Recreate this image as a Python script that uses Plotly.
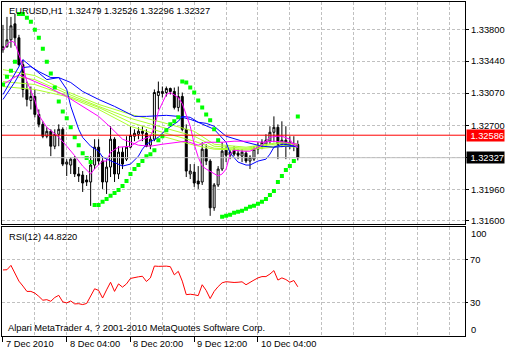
import plotly.graph_objects as go

# ---------------- data ----------------
SYMBOL = "EURUSD,H1"
BARS = list(range(75))  # hourly bars, bar 0 = 7 Dec 2010 12:00
LABEL_BARS = [0, 16, 32, 48, 64]
LABEL_TEXT = ["7 Dec 2010", "8 Dec 04:00", "8 Dec 20:00", "9 Dec 12:00", "10 Dec 04:00"]
GRID_BARS = [8, 16, 24, 32, 40, 48, 56, 64, 72, 80, 88, 96, 104, 112]

OPEN = [1.33571, 1.33605, 1.33685, 1.33869, 1.33708, 1.33399, 1.33113, 1.32986, 1.33032, 1.32826,
        1.32711, 1.32574, 1.32631, 1.32459, 1.32597, 1.32654, 1.32253, 1.32242, 1.32310, 1.32139,
        1.32127, 1.32070, 1.32047, 1.32242, 1.32448, 1.32288, 1.32047, 1.32219, 1.32540, 1.32139,
        1.32391, 1.32310, 1.32448, 1.32574, 1.32597, 1.32631, 1.32608, 1.32471, 1.32540, 1.33044,
        1.33067, 1.33078, 1.33124, 1.33090, 1.32906, 1.33032, 1.32654, 1.32139, 1.32161, 1.32058,
        1.32047, 1.32425, 1.32288, 1.31749, 1.32013, 1.32196, 1.32414, 1.32356, 1.32414, 1.32379,
        1.32345, 1.32379, 1.32288, 1.32310, 1.32425, 1.32459, 1.32482, 1.32517, 1.32620, 1.32677,
        1.32482, 1.32528, 1.32505, 1.32459, 1.32479]
HIGH = [1.33857, 1.33949, 1.33949, 1.33983, 1.33743, 1.33456, 1.33204, 1.33147, 1.33113, 1.32883,
        1.32746, 1.32677, 1.32654, 1.32654, 1.32711, 1.32677, 1.32310, 1.32333, 1.32345, 1.32219,
        1.32173, 1.32127, 1.32345, 1.32540, 1.32540, 1.32345, 1.32310, 1.32689, 1.32563, 1.32459,
        1.32448, 1.32574, 1.32689, 1.32654, 1.32677, 1.32689, 1.32654, 1.32585, 1.33113, 1.33204,
        1.33147, 1.33147, 1.33135, 1.33135, 1.33147, 1.33078, 1.32711, 1.32253, 1.32253, 1.32230,
        1.32505, 1.32482, 1.32310, 1.32035, 1.32230, 1.32505, 1.32459, 1.32414, 1.32459, 1.32425,
        1.32425, 1.32402, 1.32356, 1.32459, 1.32505, 1.32540, 1.32597, 1.32689, 1.32803, 1.32711,
        1.32746, 1.32689, 1.32574, 1.32574, 1.32526]
LOW = [1.33536, 1.33594, 1.33594, 1.33617, 1.33388, 1.33021, 1.32918, 1.32883, 1.32792, 1.32677,
       1.32551, 1.32551, 1.32345, 1.32425, 1.32459, 1.32230, 1.32116, 1.32139, 1.32104, 1.32047,
       1.31932, 1.32001, 1.31772, 1.32196, 1.32242, 1.31967, 1.31909, 1.32104, 1.32047, 1.32081,
       1.32196, 1.32288, 1.32436, 1.32517, 1.32540, 1.32517, 1.32448, 1.32425, 1.32517, 1.32883,
       1.33021, 1.33032, 1.33055, 1.32883, 1.32860, 1.32631, 1.32104, 1.32081, 1.31990, 1.31967,
       1.32013, 1.32242, 1.31657, 1.31715, 1.31990, 1.32173, 1.32276, 1.32310, 1.32345, 1.32310,
       1.32276, 1.32265, 1.32196, 1.32288, 1.32368, 1.32425, 1.32459, 1.32482, 1.32505, 1.32310,
       1.32448, 1.32310, 1.32425, 1.32402, 1.32296]
CLOSE = [1.33605, 1.33685, 1.33846, 1.33708, 1.33399, 1.33113, 1.32998, 1.33032, 1.32826, 1.32711,
         1.32574, 1.32631, 1.32459, 1.32597, 1.32654, 1.32253, 1.32276, 1.32310, 1.32139, 1.32116,
         1.32035, 1.32047, 1.32242, 1.32448, 1.32288, 1.32047, 1.32219, 1.32540, 1.32139, 1.32391,
         1.32253, 1.32448, 1.32585, 1.32608, 1.32631, 1.32608, 1.32459, 1.32540, 1.33078, 1.33090,
         1.33090, 1.33124, 1.33090, 1.32906, 1.33032, 1.32654, 1.32173, 1.32173, 1.32035, 1.32024,
         1.32425, 1.32288, 1.31749, 1.32013, 1.32196, 1.32402, 1.32356, 1.32391, 1.32368, 1.32356,
         1.32391, 1.32288, 1.32333, 1.32425, 1.32459, 1.32505, 1.32528, 1.32620, 1.32677, 1.32482,
         1.32528, 1.32471, 1.32471, 1.32482, 1.32327]

SAR = [1.33170, 1.33261, 1.33330, 1.33433, 1.33983, 1.33983, 1.33938, 1.33892, 1.33800, 1.33708,
       1.33582, 1.33433, 1.33296, 1.33135, 1.32975, 1.32860, 1.32780, 1.32677, 1.32563, 1.32471,
       1.32379, 1.32322, 1.32276, 1.31783, 1.31783, 1.31818, 1.31852, 1.31887, 1.31921, 1.31955,
       1.32001, 1.32058, 1.32139, 1.32196, 1.32242, 1.32288, 1.32345, 1.32368, 1.32414, 1.32528,
       1.32574, 1.32643, 1.32711, 1.32746, 1.32792, 1.33204, 1.33193, 1.33135, 1.33078, 1.32986,
       1.32906, 1.32826, 1.32757, 1.32654, 1.32528, 1.31646, 1.31657, 1.31669, 1.31692, 1.31703,
       1.31715, 1.31738, 1.31761, 1.31772, 1.31795, 1.31818, 1.31852, 1.31898, 1.31944, 1.32047,
       1.32116, 1.32184, 1.32230, 1.32288, 1.32803]

MA_FAST_BARS = [0, 2, 3, 5, 6, 8, 9, 11, 12, 14, 16, 17, 18, 20, 22, 23, 25, 26, 27, 29,
                31, 32, 34, 37, 38, 39, 41, 42, 44, 45, 47, 48, 49, 50, 51, 52, 54, 55, 56, 57,
                58, 60, 62, 63, 65, 66, 67, 69, 70, 72, 73, 74]
MA_FAST = [1.33571, 1.33674, 1.33650, 1.33376, 1.33204, 1.32990, 1.32815, 1.32677, 1.32640, 1.32563,
           1.32460, 1.32410, 1.32350, 1.32230, 1.32139, 1.32200, 1.32288, 1.32288, 1.32391, 1.32448,
           1.32459, 1.32459, 1.32517, 1.32574, 1.32677, 1.32860, 1.33055, 1.33078, 1.33021, 1.32950,
           1.32689, 1.32482, 1.32333, 1.32230, 1.32196, 1.32170, 1.32116, 1.32139, 1.32196, 1.32368,
           1.32414, 1.32402, 1.32402, 1.32425, 1.32471, 1.32517, 1.32563, 1.32574, 1.32574, 1.32540,
           1.32471, 1.32448]

MA_SLOW_BARS = [0, 4, 8, 11, 16, 20, 24, 27, 30, 34, 37, 40, 44, 46, 49, 51, 55, 58, 62, 65, 68, 71, 74]
MA_SLOW = [1.33170, 1.33284, 1.33204, 1.33147, 1.33032, 1.32918, 1.32803, 1.32677, 1.32540, 1.32471,
           1.32459, 1.32482, 1.32505, 1.32517, 1.32471, 1.32505, 1.32505, 1.32517, 1.32517, 1.32505,
           1.32517, 1.32505, 1.32482]

BLUE_FAST_BARS = [0, 5, 11, 14, 16, 17, 19, 20, 22, 24, 25, 28, 30, 32, 34, 35, 36, 39, 41, 44,
                  45, 47, 49, 53, 56, 57, 59, 61, 62, 64, 66, 67, 68, 70, 71, 73, 74]
BLUE_FAST = [1.33055, 1.33456, 1.33227, 1.33250, 1.33113, 1.32920, 1.32654, 1.32560, 1.32459, 1.32402,
             1.32333, 1.32276, 1.32230, 1.32253, 1.32345, 1.32425, 1.32482, 1.32563, 1.32654, 1.32746,
             1.32803, 1.32792, 1.32735, 1.32654, 1.32505, 1.32380, 1.32276, 1.32242, 1.32242, 1.32288,
             1.32310, 1.32368, 1.32448, 1.32482, 1.32482, 1.32459, 1.32448]

BLUE_SLOW_BARS = [0, 3, 5, 7, 9, 12, 14, 17, 20, 24, 28, 31, 33, 36, 41, 44, 47, 49, 51, 53,
                  56, 61, 65, 68, 71, 74]
BLUE_SLOW = [1.32998, 1.33200, 1.33365, 1.33376, 1.33319, 1.33250, 1.33250, 1.33193, 1.33090, 1.32998,
             1.32918, 1.32849, 1.32803, 1.32803, 1.32815, 1.32803, 1.32769, 1.32735, 1.32723, 1.32689,
             1.32574, 1.32505, 1.32459, 1.32448, 1.32459, 1.32459]

RIBBON_BARS = [0, 8, 16, 24, 32, 40, 48, 53, 61, 70, 74]
RIBBON_1 = [1.33342, 1.33273, 1.33090, 1.32941, 1.32826, 1.32734, 1.32631, 1.32482, 1.32448, 1.32505, 1.32482]
RIBBON_2 = [1.33284, 1.33227, 1.33067, 1.32918, 1.32780, 1.32677, 1.32574, 1.32459, 1.32436, 1.32494, 1.32471]
RIBBON_3 = [1.33204, 1.33170, 1.33044, 1.32906, 1.32734, 1.32620, 1.32517, 1.32436, 1.32425, 1.32471, 1.32459]
RIBBON_4 = [1.33147, 1.33113, 1.33032, 1.32883, 1.32689, 1.32574, 1.32471, 1.32425, 1.32414, 1.32459, 1.32448]

HLINE_LEVEL = 1.32586
PRICE_TICKS = [1.33800, 1.33440, 1.33070, 1.32700, 1.32330, 1.31960, 1.31600]
PRICE_TICK_TEXT = ["1.33800", "1.33440", "1.33070", "1.32700", "", "1.31960", "1.31600"]

RSI = [60.3, 60.5, 64.5, 57, 50, 45.5, 40.6, 40.6, 39, 36,
       32.5, 33, 31.5, 35, 37, 31, 30, 31.8, 29.1, 29.3,
       28.5, 29.5, 36, 43, 41.5, 34.5, 42, 49, 40.6, 47.5,
       44.5, 47.5, 52.5, 53.6, 54, 54.5, 49.7, 53, 63.9, 63.6,
       63.9, 63.8, 63.3, 55.8, 59, 50, 37.6, 38, 37.5, 36.7,
       46.7, 41.5, 34, 40.6, 45, 48.5, 49.5, 48.8, 48.8, 49,
       49.4, 46.7, 48.5, 51, 53, 54.2, 54.2, 56.5, 59.7, 51,
       53, 51.5, 49, 50.6, 44.822]
RSI_LEVELS = [30, 70]

# ---------------- figure ----------------
W, H = 505, 355
FONT = "Liberation Sans, Arial, sans-serif"
GRID = "#C0C0C0"
DASH = "3px,2px"


def py(px):
    return 1 - px / H


fig = go.Figure()

fig.add_trace(go.Candlestick(
    x=BARS, open=OPEN, high=HIGH, low=LOW, close=CLOSE,
    increasing=dict(line=dict(color="black", width=1), fillcolor="white"),
    decreasing=dict(line=dict(color="black", width=1), fillcolor="black"),
    whiskerwidth=0, hoverinfo="skip", xaxis="x", yaxis="y"))

for vals in (RIBBON_1, RIBBON_2, RIBBON_3, RIBBON_4):
    fig.add_trace(go.Scatter(x=RIBBON_BARS, y=vals, mode="lines",
                             line=dict(color="#ADFF2F", width=1), hoverinfo="skip"))
fig.add_trace(go.Scatter(x=BLUE_SLOW_BARS, y=BLUE_SLOW, mode="lines",
                         line=dict(color="#0000FF", width=1), hoverinfo="skip"))
fig.add_trace(go.Scatter(x=BLUE_FAST_BARS, y=BLUE_FAST, mode="lines",
                         line=dict(color="#0000FF", width=1), hoverinfo="skip"))
fig.add_trace(go.Scatter(x=MA_SLOW_BARS, y=MA_SLOW, mode="lines",
                         line=dict(color="#FF00FF", width=1), hoverinfo="skip"))
fig.add_trace(go.Scatter(x=MA_FAST_BARS, y=MA_FAST, mode="lines",
                         line=dict(color="#FF00FF", width=1), hoverinfo="skip"))
fig.add_trace(go.Scatter(x=BARS, y=SAR, mode="markers",
                         marker=dict(symbol="square", size=4, color="#00FF00", line=dict(width=0)),
                         hoverinfo="skip"))

fig.add_trace(go.Scatter(x=BARS, y=RSI, mode="lines", line=dict(color="#FF0000", width=1),
                         hoverinfo="skip", xaxis="x2", yaxis="y2"))

shapes = [
    dict(type="line", xref="x domain", yref="y", x0=0, x1=1, y0=HLINE_LEVEL, y1=HLINE_LEVEL,
         line=dict(color="#FF0000", width=1)),
    dict(type="line", xref="x domain", yref="y", x0=0, x1=1, y0=CLOSE[-1], y1=CLOSE[-1],
         line=dict(color="#C0C0C0", width=1)),
]

tf = dict(family=FONT, size=9.3, color="black")
annotations = [
    dict(xref="paper", yref="paper", x=7 / W, y=py(11), xanchor="left", yanchor="middle",
         text=f"{SYMBOL}\u00a0\u00a0{OPEN[-1]:.5f} {HIGH[-1]:.5f} {LOW[-1]:.5f} {CLOSE[-1]:.5f}",
         showarrow=False, font=tf),
    dict(xref="paper", yref="paper", x=7 / W, y=py(238.5), xanchor="left", yanchor="middle",
         text=f"RSI(12) {RSI[-1]:.4f}", showarrow=False, font=tf),
    dict(xref="paper", yref="paper", x=6 / W, y=py(329.5), xanchor="left", yanchor="middle",
         text="Alpari MetaTrader 4, ? 2001-2010 MetaQuotes Software Corp.", showarrow=False, font=tf),
    dict(xref="paper", yref="y", x=468 / W, y=HLINE_LEVEL, xanchor="left", yanchor="middle",
         text=f"{HLINE_LEVEL:.5f}", showarrow=False, bgcolor="#FF0000", width=37, height=11,
         align="right", borderpad=0, font=dict(family=FONT, size=9.3, color="white")),
    dict(xref="paper", yref="y", x=468 / W, y=CLOSE[-1], xanchor="left", yanchor="middle",
         text=f"{CLOSE[-1]:.5f}", showarrow=False, bgcolor="#000000", width=37, height=11,
         align="right", borderpad=0, font=dict(family=FONT, size=9.3, color="white")),
    dict(xref="paper", yref="paper", x=471 / W, y=py(235), xanchor="left", yanchor="middle",
         text="100", showarrow=False, font=tf),
    dict(xref="paper", yref="paper", x=471 / W, y=py(332), xanchor="left", yanchor="middle",
         text="0", showarrow=False, font=tf),
]
for b, t in zip(LABEL_BARS, LABEL_TEXT):
    annotations.append(dict(xref="x2", yref="paper", x=b, y=py(346), xanchor="left",
                            yanchor="middle", xshift=1, text=t, showarrow=False, font=tf))

XDOM = [2 / W, 467 / W]
XR = [-0.25, 116]

fig.update_layout(
    width=W, height=H, margin=dict(l=0, r=0, t=0, b=0),
    paper_bgcolor="white", plot_bgcolor="white", showlegend=False,
    shapes=shapes, annotations=annotations,
    xaxis=dict(domain=XDOM, range=XR, anchor="y", tickvals=GRID_BARS, showticklabels=False, ticks="",
               showgrid=True, gridcolor=GRID, griddash=DASH, gridwidth=1, zeroline=False,
               showline=True, mirror=True, linecolor="black", linewidth=1,
               rangeslider=dict(visible=False), fixedrange=True),
    yaxis=dict(domain=[py(225), py(2)], range=[1.31566, 1.34121], anchor="x", side="right",
               tickvals=PRICE_TICKS, ticktext=PRICE_TICK_TEXT, ticks="outside", ticklen=3,
               tickcolor="black", tickfont=tf, showgrid=True, gridcolor=GRID, griddash=DASH,
               zeroline=False, showline=True, mirror=True, linecolor="black", linewidth=1,
               fixedrange=True),
    xaxis2=dict(domain=XDOM, range=XR, anchor="y2", tickvals=LABEL_BARS,
                ticktext=[""] * len(LABEL_BARS), ticks="outside", ticklen=5, tickcolor="black",
                showgrid=True, gridcolor=GRID, griddash=DASH, zeroline=False,
                minor=dict(tickvals=GRID_BARS, showgrid=True, gridcolor=GRID, griddash=DASH, ticks=""),
                showline=True, mirror=True, linecolor="black", linewidth=1, fixedrange=True),
    yaxis2=dict(domain=[py(337.5), py(228)], range=[0, 100], anchor="x2", side="right",
                tickvals=RSI_LEVELS, ticktext=[str(v) for v in RSI_LEVELS], ticks="outside", ticklen=2,
                tickcolor="black", tickfont=tf, showgrid=True, gridcolor=GRID, griddash=DASH,
                zeroline=False, showline=True, mirror=True, linecolor="black", linewidth=1,
                fixedrange=True),
)

fig.write_html("out.html")
